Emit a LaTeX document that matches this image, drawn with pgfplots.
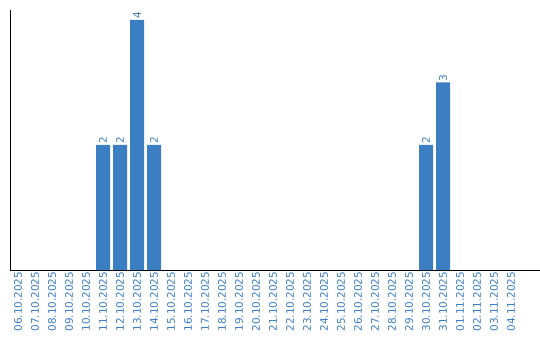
\documentclass[border=0pt]{standalone}
\usepackage{pgfplots}
\pgfplotsset{compat=1.18}
\usepackage{fontspec}
\setmainfont{DejaVu Sans}
\definecolor{barblue}{RGB}{59,126,194}
\begin{document}
\begin{tikzpicture}
\begin{axis}[
  scale only axis,
  width=531bp, height=260bp,
  xmin=-0.47, xmax=30.76,
  ymin=0, ymax=4.16,
  axis x line=bottom, axis y line=left,
  axis line style={-, black, line width=1pt},
  ytick=\empty,
  xtick={0,...,29},
  major tick length=0pt,
  xticklabels={06.10.2025,07.10.2025,08.10.2025,09.10.2025,10.10.2025,11.10.2025,12.10.2025,13.10.2025,14.10.2025,15.10.2025,16.10.2025,17.10.2025,18.10.2025,19.10.2025,20.10.2025,21.10.2025,22.10.2025,23.10.2025,24.10.2025,25.10.2025,26.10.2025,27.10.2025,28.10.2025,29.10.2025,30.10.2025,31.10.2025,01.11.2025,02.11.2025,03.11.2025,04.11.2025},
  xticklabel style={rotate=90, anchor=east, font=\fontsize{10.5}{11}\selectfont, text=barblue, inner sep=1.5pt},
  /pgf/number format/assume math mode=true,
  ybar, bar width=14bp,
  nodes near coords={\pgfmathprintnumber{\pgfplotspointmeta}},
  nodes near coords style={rotate=90, anchor=west, scale=1, font=\fontsize{10.5}{11}\selectfont, text=barblue, inner sep=1pt},
]
\addplot[fill=barblue, draw=none] coordinates {(5,2) (6,2) (7,4) (8,2) (24,2) (25,3)};
\end{axis}
\pgfresetboundingbox
\path (-10bp,-70bp) rectangle (530bp,270bp);
\end{tikzpicture}
\end{document}
